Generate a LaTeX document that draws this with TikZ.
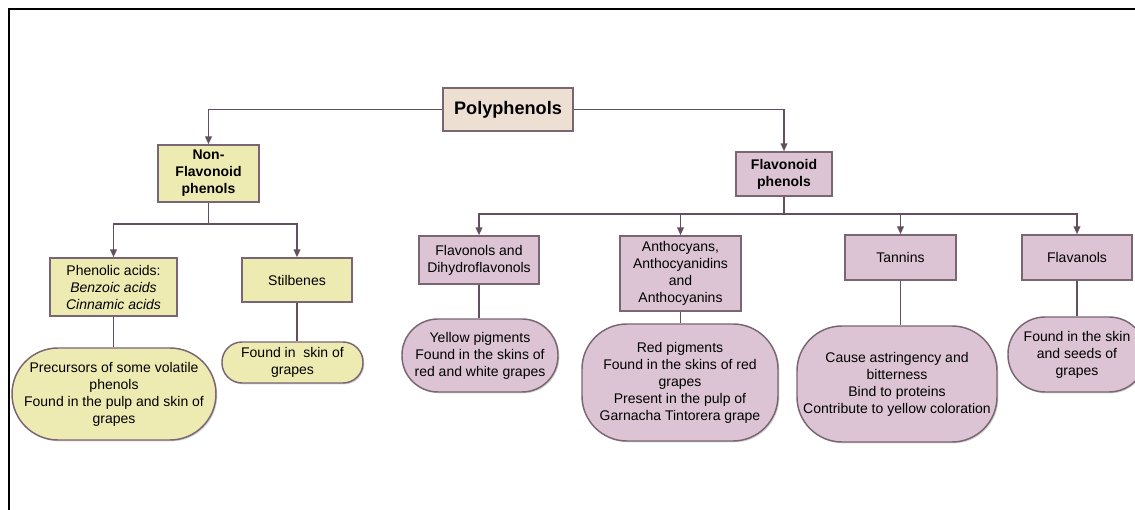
\documentclass[tikz,border=0pt]{standalone}
\usepackage{fontspec}
\setmainfont{Liberation Sans}
\usetikzlibrary{arrows.meta,shadows}

\definecolor{edge}{HTML}{7A6672}
\definecolor{wire}{HTML}{654F5F}
\definecolor{rootfill}{HTML}{EEDFD3}
\definecolor{yelfill}{HTML}{EEEBB2}
\definecolor{pinkfill}{HTML}{DCC4D4}

\tikzset{
  sz/.style 2 args={minimum width=#1*0.75pt, minimum height=#2*0.75pt},
  basebox/.style={draw=edge, line width=1.1pt, inner sep=1pt, align=center,
    font=\fontsize{10.5pt}{12.75pt}\selectfont,
    drop shadow={opacity=0.35, shadow xshift=1pt, shadow yshift=-1pt}},
  rootbox/.style={basebox, fill=rootfill, font=\fontsize{13.6pt}{16pt}\selectfont\bfseries},
  ybox/.style={basebox, fill=yelfill},
  pbox/.style={basebox, fill=pinkfill},
  headbox/.style={font=\fontsize{10.5pt}{12.75pt}\selectfont\bfseries},
  pill/.style={rounded corners=#1*0.75pt},
  wireline/.style={draw=wire, line width=1.3pt},
  arr/.style={wireline, -{Triangle[length=6pt,width=5pt]}}
}

\begin{document}
\begin{tikzpicture}[x=0.75pt,y=-0.75pt]
\clip (0,0) rectangle (1135,510);

% outer frame
\draw[line width=1.6pt, black] (9,520) -- (9,9) -- (1145,9);

% top level
\node[rootbox, sz={130}{43}] (poly) at (508,109.5) {Polyphenols};
\node[ybox, headbox, sz={101}{57}] (nonflav) at (208.5,173.5) {Non-\\Flavonoid\\phenols};
\node[pbox, headbox, sz={96}{44}] (flav) at (784,174) {Flavonoid\\phenols};

% non-flavonoid branch
\node[ybox, sz={127}{58}] (phen) at (113.5,287) {Phenolic acids:\\\textit{Benzoic acids}\\\textit{Cinnamic acids}};
\node[ybox, sz={110}{44}] (stil) at (297,280) {Stilbenes};
\node[ybox, pill=46, sz={204}{92}] (prec) at (114,394) {Precursors of some volatile\\phenols\\Found in the pulp and skin of\\grapes};
\node[ybox, pill=20, sz={141}{41}] (skin) at (292.5,362.5) {Found in~ skin of\\grapes};

% flavonoid branch
\node[pbox, sz={120}{48}] (flavonols) at (479,260) {Flavonols and\\Dihydroflavonols};
\node[pbox, sz={121}{75}] (antho) at (680.5,273.5) {Anthocyans,\\Anthocyanidins\\and\\Anthocyanins};
\node[pbox, sz={111}{45}] (tann) at (900.5,257.5) {Tannins};
\node[pbox, sz={110}{45}] (flavan) at (1077,257.5) {Flavanols};

\node[pbox, pill=36, sz={156}{73}] (yellow) at (480,355.5) {Yellow pigments\\Found in the skins of\\red and white grapes};
\node[pbox, pill=45, sz={196}{117}] (red) at (680,382.5) {Red pigments\\Found in the skins of red\\grapes\\Present in the pulp of\\Garnacha Tintorera grape};
\node[pbox, pill=45, sz={200}{116}] (tannin) at (897,384) {Cause astringency and\\bitterness\\Bind to proteins\\Contribute to yellow coloration};
\node[pbox, pill=37, sz={138}{75}] (seeds) at (1077,354.5) {Found in the skin\\and seeds of\\grapes};

% junction points of the branch lines
\coordinate (nfj) at (208.5,224);
\coordinate (fj) at (784,214);

% root connectors
\draw[arr] (poly.west) -| (nonflav.north);
\draw[arr] (poly.east) -| (flav.north);

% non-flavonoid connectors
\draw[wireline] (nonflav.south) -- (nfj);
\draw[arr] (nfj) -| (phen.north);
\draw[arr] (nfj) -| (stil.north);
\draw[wireline] (phen.south) -- (phen.south |- prec.north);
\draw[wireline] (stil.south) -- (stil.south |- skin.north);

% flavonoid connectors
\draw[wireline] (flav.south) -- (fj);
\draw[arr] (fj) -| (flavonols.north);
\draw[arr] (fj) -| (antho.north);
\draw[arr] (fj) -| (tann.north);
\draw[arr] (fj) -| (flavan.north);
\draw[wireline] (flavonols.south) -- (flavonols.south |- yellow.north);
\draw[wireline] (antho.south) -- (antho.south |- red.north);
\draw[wireline] (tann.south) -- (tann.south |- tannin.north);
\draw[wireline] (flavan.south) -- (flavan.south |- seeds.north);
\end{tikzpicture}
\end{document}
